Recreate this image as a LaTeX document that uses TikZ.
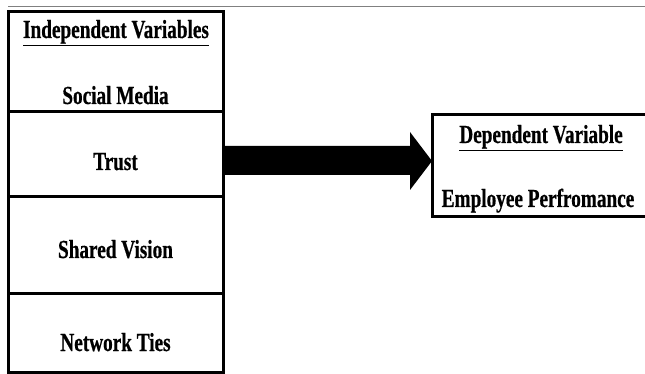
\documentclass[tikz,border=0pt]{standalone}
\usepackage{fontspec}
\newfontfamily\tnr[FakeStretch=0.74,FakeBold=0.6]{Liberation Serif}
\begin{document}
\begin{tikzpicture}[x=1pt,y=-1pt,
  cell/.style={draw, line width=3pt, minimum width=215pt, anchor=north west, inner sep=0pt, outer sep=0pt},
  lbl/.style={font=\tnr\bfseries\fontsize{26}{30}\selectfont, anchor=base, inner sep=0pt}]
\useasboundingbox (0,0) rectangle (645,374);
\draw[gray, line width=1pt] (8,7) -- (645,7);
\node[cell, minimum height=100pt] (c1) at (8,12) {};
\node[cell, minimum height=85pt] (c2) at (c1.south west) {};
\node[cell, minimum height=96pt] (c3) at (c2.south west) {};
\node[cell, minimum height=79pt] (c4) at (c3.south west) {};
\node[cell, minimum width=240pt, minimum height=102pt] (dep) at (432,115) {};
\node[lbl] (t0) at (116,38) {\underline{Independent Variables}};
\node[lbl] (t1) at (115.5,104) {Social Media};
\node[lbl] (t2) at (115.5,170) {Trust};
\node[lbl] (t3) at (115.5,258) {Shared Vision};
\node[lbl] (t4) at (115.5,351) {Network Ties};
\node[lbl] (t5) at (541,143) {\underline{Dependent Variable}};
\node[lbl] (t6) at (538,207) {Employee Perfromance};
\coordinate (s1) at (c2.east |- 0,146);
\coordinate (s2) at (c2.east |- 0,175);
\coordinate (tip) at (dep.west |- 0,161);
\fill (s1) -- (410,146) -- (410,132) -- (tip) -- (410,190) -- (410,175) -- (s2) -- cycle;
\end{tikzpicture}
\end{document}
